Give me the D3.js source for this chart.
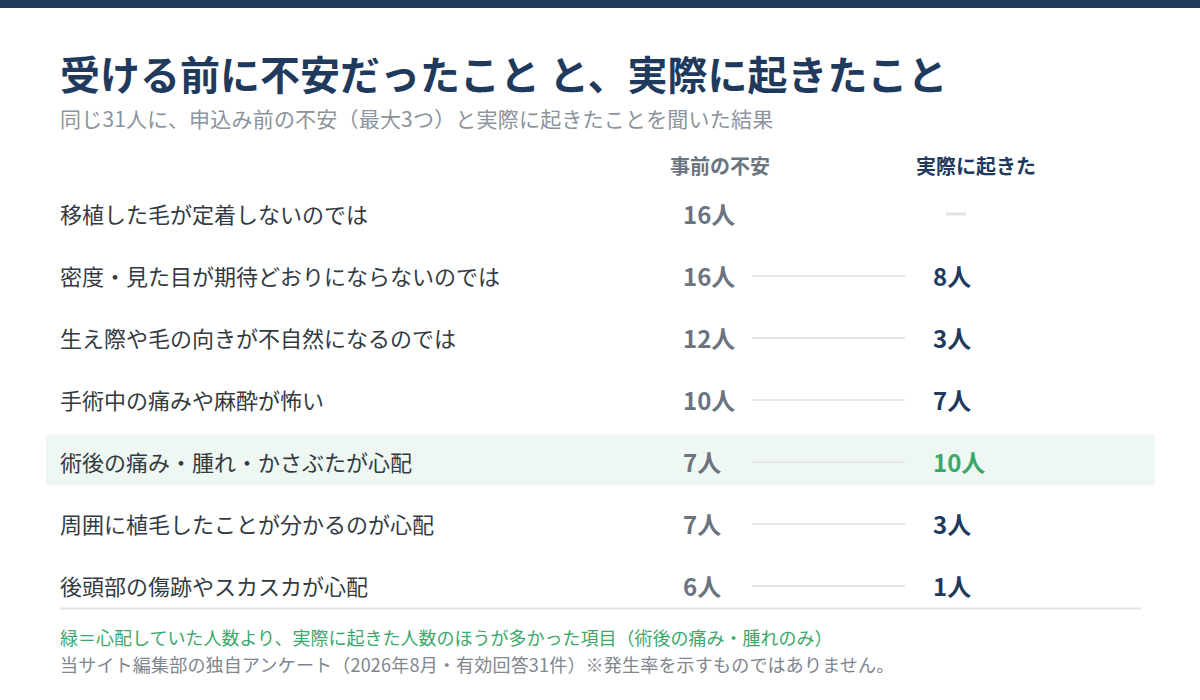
<!DOCTYPE html>
<html lang="ja">
<head>
<meta charset="utf-8">
<script src="https://cdn.jsdelivr.net/npm/d3@7"></script>
<style>
  html, body { margin: 0; padding: 0; background: #fff; }
  svg { display: block; font-family: "Noto Sans CJK JP", "Noto Sans", sans-serif; }
</style>
</head>
<body>
<div id="chart"></div>
<script>
// 項目と人数
const items = [
  "移植した毛が定着しないのでは",
  "密度・見た目が期待どおりにならないのでは",
  "生え際や毛の向きが不自然になるのでは",
  "手術中の痛みや麻酔が怖い",
  "術後の痛み・腫れ・かさぶたが心配",
  "周囲に植毛したことが分かるのが心配",
  "後頭部の傷跡やスカスカが心配"
];
const beforeCounts = [16, 16, 12, 10, 7, 7, 6];
const afterCounts = [null, 8, 3, 7, 10, 3, 1];
const columns = ["事前の不安", "実際に起きた"];

const title = "受ける前に不安だったこと と、実際に起きたこと";
const subtitle = "同じ31人に、申込み前の不安（最大3つ）と実際に起きたことを聞いた結果";
const noteGreen = "緑＝心配していた人数より、実際に起きた人数のほうが多かった項目（術後の痛み・腫れのみ）";
const noteSource = "当サイト編集部の独自アンケート（2026年8月・有効回答31件）※発生率を示すものではありません。";

const width = 1200, height = 700;
const navy = "#1f3a5c", gray = "#6b7480", green = "#3aa86b";

const rows = items.map((d, i) => ({
  label: d,
  before: beforeCounts[i],
  after: afterCounts[i],
  up: afterCounts[i] != null && afterCounts[i] > beforeCounts[i]
}));

const svg = d3.select("#chart").append("svg")
  .attr("width", width)
  .attr("height", height)
  .attr("viewBox", `0 0 ${width} ${height}`);

// 上の帯
svg.append("rect").attr("x", 0).attr("y", 0).attr("width", width).attr("height", 8).attr("fill", navy);

svg.append("text")
  .attr("x", 60).attr("y", 73)
  .attr("dominant-baseline", "central")
  .attr("font-size", 40).attr("font-weight", 700)
  .attr("fill", navy)
  .text(title);

svg.append("text")
  .attr("x", 60).attr("y", 118)
  .attr("dominant-baseline", "central")
  .attr("font-size", 21).attr("letter-spacing", 0.2)
  .attr("fill", "#8b939c")
  .text(subtitle);

const y = d3.scaleBand()
  .domain(items)
  .range([182, 616])
  .padding(0);

const colX = d3.scalePoint()
  .domain(columns)
  .range([720, 976]);

// 列見出し
svg.selectAll("text.head")
  .data(columns)
  .join("text")
  .attr("class", "head")
  .attr("x", d => colX(d))
  .attr("y", 165)
  .attr("text-anchor", "middle")
  .attr("dominant-baseline", "central")
  .attr("font-size", 20).attr("font-weight", 700)
  .attr("fill", (d, i) => i === 0 ? gray : navy)
  .text(d => d);

const row = svg.selectAll("g.row")
  .data(rows)
  .join("g")
  .attr("class", "row")
  .attr("transform", d => `translate(0,${y(d.label) + y.bandwidth() / 2})`);

row.filter(d => d.up)
  .append("rect")
  .attr("x", 46).attr("y", -y.bandwidth() * 0.43)
  .attr("width", 1109).attr("height", y.bandwidth() * 0.82)
  .attr("fill", "#eef7f2");

row.append("text")
  .attr("x", 60)
  .attr("dominant-baseline", "central")
  .attr("font-size", 22)
  .attr("fill", "#333a42")
  .text(d => d.label);

row.append("text")
  .attr("x", 683)
  .attr("dominant-baseline", "central")
  .attr("font-size", 24).attr("font-weight", 700)
  .attr("fill", gray)
  .text(d => d.before + "人");

row.filter(d => d.after != null)
  .append("line")
  .attr("x1", 752).attr("x2", 905)
  .attr("y1", 1).attr("y2", 1)
  .attr("stroke", "#e3e6ea").attr("stroke-width", 2);

row.filter(d => d.after != null)
  .append("text")
  .attr("x", 933)
  .attr("dominant-baseline", "central")
  .attr("font-size", 24).attr("font-weight", 700)
  .attr("fill", d => d.up ? green : navy)
  .text(d => d.after + "人");

row.filter(d => d.after == null)
  .append("line")
  .attr("x1", 946).attr("x2", 966)
  .attr("y1", 1).attr("y2", 1)
  .attr("stroke", "#dfe2e6").attr("stroke-width", 3);

// 下の区切り線
svg.append("line")
  .attr("x1", 60).attr("x2", 1141)
  .attr("y1", 608.5).attr("y2", 608.5)
  .attr("stroke", "#e2e5e8").attr("stroke-width", 2);

svg.append("text")
  .attr("x", 60).attr("y", 637)
  .attr("dominant-baseline", "central")
  .attr("font-size", 18)
  .attr("fill", green)
  .text(noteGreen);

svg.append("text")
  .attr("x", 60).attr("y", 664)
  .attr("dominant-baseline", "central")
  .attr("font-size", 18).attr("letter-spacing", 0.2)
  .attr("fill", "#80868e")
  .text(noteSource);
</script>
</body>
</html>
